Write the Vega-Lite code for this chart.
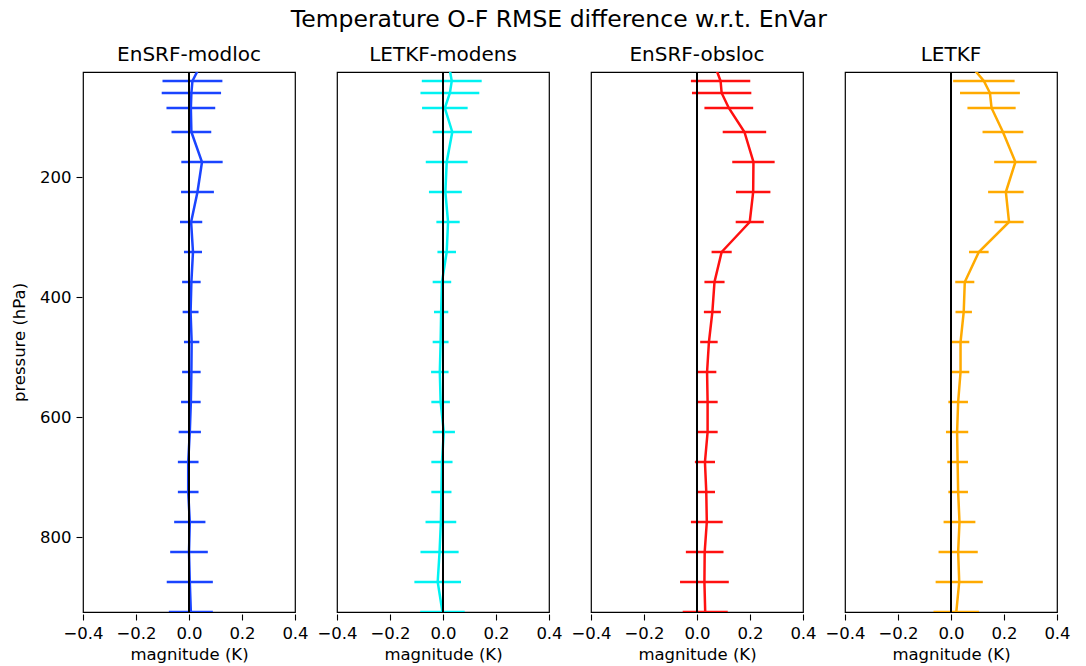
{
  "$schema": "https://vega.github.io/schema/vega-lite/v6.json",
  "background": "white",
  "padding": {"left": 11, "top": 7, "right": 15, "bottom": 2},
  "title": {"text": "Temperature O-F RMSE difference w.r.t. EnVar", "fontSize": 23.5, "font": "DejaVu Sans", "fontWeight": "normal", "color": "#000", "anchor": "middle", "offset": 14, "dx": 18},
  "config": {
    "view": {"stroke": "#000", "strokeWidth": 1.2},
    "font": "DejaVu Sans",
    "axis": {"domain": false, "grid": false, "tickColor": "#000", "tickSize": 6, "tickWidth": 1.1, "labelFontSize": 16.5, "labelColor": "#000", "labelPadding": 5, "titleFontSize": 16.5, "titleFontWeight": "normal", "titleColor": "#000", "labelFont": "DejaVu Sans", "titleFont": "DejaVu Sans", "labelOverlap": false, "labelBound": false, "labelFlush": false}
  },
  "data": {"values": [
    {"scheme": "EnSRF-modloc", "p": 20, "m": 0.036, "lo": null, "hi": null},
    {"scheme": "EnSRF-modloc", "p": 40, "m": 0.013, "lo": -0.100, "hi": 0.126},
    {"scheme": "EnSRF-modloc", "p": 60, "m": 0.009, "lo": -0.103, "hi": 0.121},
    {"scheme": "EnSRF-modloc", "p": 85, "m": 0.007, "lo": -0.085, "hi": 0.099},
    {"scheme": "EnSRF-modloc", "p": 125, "m": 0.009, "lo": -0.066, "hi": 0.084},
    {"scheme": "EnSRF-modloc", "p": 175, "m": 0.049, "lo": -0.029, "hi": 0.127},
    {"scheme": "EnSRF-modloc", "p": 225, "m": 0.032, "lo": -0.030, "hi": 0.094},
    {"scheme": "EnSRF-modloc", "p": 275, "m": 0.008, "lo": -0.034, "hi": 0.050},
    {"scheme": "EnSRF-modloc", "p": 325, "m": 0.015, "lo": -0.019, "hi": 0.049},
    {"scheme": "EnSRF-modloc", "p": 375, "m": 0.009, "lo": -0.026, "hi": 0.044},
    {"scheme": "EnSRF-modloc", "p": 425, "m": 0.006, "lo": -0.024, "hi": 0.036},
    {"scheme": "EnSRF-modloc", "p": 475, "m": 0.010, "lo": -0.019, "hi": 0.039},
    {"scheme": "EnSRF-modloc", "p": 525, "m": 0.009, "lo": -0.026, "hi": 0.044},
    {"scheme": "EnSRF-modloc", "p": 575, "m": 0.007, "lo": -0.030, "hi": 0.044},
    {"scheme": "EnSRF-modloc", "p": 625, "m": 0.003, "lo": -0.039, "hi": 0.045},
    {"scheme": "EnSRF-modloc", "p": 675, "m": -0.003, "lo": -0.042, "hi": 0.036},
    {"scheme": "EnSRF-modloc", "p": 725, "m": -0.003, "lo": -0.042, "hi": 0.036},
    {"scheme": "EnSRF-modloc", "p": 775, "m": 0.003, "lo": -0.056, "hi": 0.062},
    {"scheme": "EnSRF-modloc", "p": 825, "m": 0.000, "lo": -0.071, "hi": 0.071},
    {"scheme": "EnSRF-modloc", "p": 875, "m": 0.003, "lo": -0.084, "hi": 0.090},
    {"scheme": "EnSRF-modloc", "p": 925, "m": 0.007, "lo": -0.076, "hi": 0.090},
    {"scheme": "LETKF-modens", "p": 20, "m": 0.025, "lo": null, "hi": null},
    {"scheme": "LETKF-modens", "p": 40, "m": 0.033, "lo": -0.080, "hi": 0.146},
    {"scheme": "LETKF-modens", "p": 60, "m": 0.026, "lo": -0.085, "hi": 0.137},
    {"scheme": "LETKF-modens", "p": 85, "m": 0.007, "lo": -0.079, "hi": 0.093},
    {"scheme": "LETKF-modens", "p": 125, "m": 0.035, "lo": -0.039, "hi": 0.109},
    {"scheme": "LETKF-modens", "p": 175, "m": 0.014, "lo": -0.065, "hi": 0.093},
    {"scheme": "LETKF-modens", "p": 225, "m": 0.009, "lo": -0.053, "hi": 0.071},
    {"scheme": "LETKF-modens", "p": 275, "m": 0.019, "lo": -0.025, "hi": 0.063},
    {"scheme": "LETKF-modens", "p": 325, "m": 0.014, "lo": -0.021, "hi": 0.049},
    {"scheme": "LETKF-modens", "p": 375, "m": -0.004, "lo": -0.039, "hi": 0.031},
    {"scheme": "LETKF-modens", "p": 425, "m": -0.007, "lo": -0.034, "hi": 0.020},
    {"scheme": "LETKF-modens", "p": 475, "m": -0.009, "lo": -0.039, "hi": 0.021},
    {"scheme": "LETKF-modens", "p": 525, "m": -0.012, "lo": -0.045, "hi": 0.021},
    {"scheme": "LETKF-modens", "p": 575, "m": -0.009, "lo": -0.044, "hi": 0.026},
    {"scheme": "LETKF-modens", "p": 625, "m": 0.003, "lo": -0.039, "hi": 0.045},
    {"scheme": "LETKF-modens", "p": 675, "m": -0.004, "lo": -0.044, "hi": 0.036},
    {"scheme": "LETKF-modens", "p": 725, "m": -0.006, "lo": -0.044, "hi": 0.032},
    {"scheme": "LETKF-modens", "p": 775, "m": -0.008, "lo": -0.066, "hi": 0.050},
    {"scheme": "LETKF-modens", "p": 825, "m": -0.013, "lo": -0.085, "hi": 0.059},
    {"scheme": "LETKF-modens", "p": 875, "m": -0.020, "lo": -0.108, "hi": 0.068},
    {"scheme": "LETKF-modens", "p": 925, "m": -0.002, "lo": -0.086, "hi": 0.082},
    {"scheme": "EnSRF-obsloc", "p": 20, "m": 0.072, "lo": null, "hi": null},
    {"scheme": "EnSRF-obsloc", "p": 40, "m": 0.089, "lo": -0.023, "hi": 0.201},
    {"scheme": "EnSRF-obsloc", "p": 60, "m": 0.093, "lo": -0.019, "hi": 0.205},
    {"scheme": "EnSRF-obsloc", "p": 85, "m": 0.120, "lo": 0.028, "hi": 0.212},
    {"scheme": "EnSRF-obsloc", "p": 125, "m": 0.179, "lo": 0.097, "hi": 0.261},
    {"scheme": "EnSRF-obsloc", "p": 175, "m": 0.213, "lo": 0.133, "hi": 0.293},
    {"scheme": "EnSRF-obsloc", "p": 225, "m": 0.212, "lo": 0.147, "hi": 0.277},
    {"scheme": "EnSRF-obsloc", "p": 275, "m": 0.199, "lo": 0.146, "hi": 0.252},
    {"scheme": "EnSRF-obsloc", "p": 325, "m": 0.093, "lo": 0.055, "hi": 0.131},
    {"scheme": "EnSRF-obsloc", "p": 375, "m": 0.066, "lo": 0.028, "hi": 0.104},
    {"scheme": "EnSRF-obsloc", "p": 425, "m": 0.058, "lo": 0.026, "hi": 0.090},
    {"scheme": "EnSRF-obsloc", "p": 475, "m": 0.045, "lo": 0.012, "hi": 0.078},
    {"scheme": "EnSRF-obsloc", "p": 525, "m": 0.038, "lo": 0.003, "hi": 0.073},
    {"scheme": "EnSRF-obsloc", "p": 575, "m": 0.040, "lo": 0.002, "hi": 0.078},
    {"scheme": "EnSRF-obsloc", "p": 625, "m": 0.040, "lo": 0.002, "hi": 0.078},
    {"scheme": "EnSRF-obsloc", "p": 675, "m": 0.030, "lo": -0.008, "hi": 0.068},
    {"scheme": "EnSRF-obsloc", "p": 725, "m": 0.035, "lo": 0.002, "hi": 0.068},
    {"scheme": "EnSRF-obsloc", "p": 775, "m": 0.037, "lo": -0.023, "hi": 0.097},
    {"scheme": "EnSRF-obsloc", "p": 825, "m": 0.029, "lo": -0.042, "hi": 0.100},
    {"scheme": "EnSRF-obsloc", "p": 875, "m": 0.028, "lo": -0.064, "hi": 0.120},
    {"scheme": "EnSRF-obsloc", "p": 925, "m": 0.031, "lo": -0.054, "hi": 0.116},
    {"scheme": "LETKF", "p": 20, "m": 0.086, "lo": null, "hi": null},
    {"scheme": "LETKF", "p": 40, "m": 0.124, "lo": 0.008, "hi": 0.240},
    {"scheme": "LETKF", "p": 60, "m": 0.147, "lo": 0.034, "hi": 0.260},
    {"scheme": "LETKF", "p": 85, "m": 0.153, "lo": 0.062, "hi": 0.244},
    {"scheme": "LETKF", "p": 125, "m": 0.196, "lo": 0.119, "hi": 0.273},
    {"scheme": "LETKF", "p": 175, "m": 0.243, "lo": 0.163, "hi": 0.323},
    {"scheme": "LETKF", "p": 225, "m": 0.207, "lo": 0.140, "hi": 0.274},
    {"scheme": "LETKF", "p": 275, "m": 0.219, "lo": 0.164, "hi": 0.274},
    {"scheme": "LETKF", "p": 325, "m": 0.105, "lo": 0.068, "hi": 0.142},
    {"scheme": "LETKF", "p": 375, "m": 0.052, "lo": 0.016, "hi": 0.088},
    {"scheme": "LETKF", "p": 425, "m": 0.048, "lo": 0.017, "hi": 0.079},
    {"scheme": "LETKF", "p": 475, "m": 0.036, "lo": 0.003, "hi": 0.069},
    {"scheme": "LETKF", "p": 525, "m": 0.036, "lo": 0.003, "hi": 0.069},
    {"scheme": "LETKF", "p": 575, "m": 0.027, "lo": -0.010, "hi": 0.064},
    {"scheme": "LETKF", "p": 625, "m": 0.023, "lo": -0.019, "hi": 0.065},
    {"scheme": "LETKF", "p": 675, "m": 0.025, "lo": -0.014, "hi": 0.064},
    {"scheme": "LETKF", "p": 725, "m": 0.027, "lo": -0.010, "hi": 0.064},
    {"scheme": "LETKF", "p": 775, "m": 0.032, "lo": -0.028, "hi": 0.092},
    {"scheme": "LETKF", "p": 825, "m": 0.027, "lo": -0.047, "hi": 0.101},
    {"scheme": "LETKF", "p": 875, "m": 0.031, "lo": -0.058, "hi": 0.120},
    {"scheme": "LETKF", "p": 925, "m": 0.020, "lo": -0.066, "hi": 0.106}
  ]},
  "facet": {
    "column": {"field": "scheme", "type": "nominal", "sort": ["EnSRF-modloc", "LETKF-modens", "EnSRF-obsloc", "LETKF"],
      "header": {"title": null, "labelFontSize": 20, "labelFont": "DejaVu Sans", "labelColor": "#000", "labelPadding": 5}}
  },
  "spacing": 40,
  "spec": {
    "width": 212,
    "height": 540,
    "layer": [
      {
        "mark": {"type": "rule", "strokeWidth": 2.5, "clip": true},
        "encoding": {
          "y": {"field": "p", "type": "quantitative", "scale": {"domain": [25, 925], "reverse": true, "nice": false, "zero": false}, "axis": {"values": [200, 400, 600, 800], "title": "pressure (hPa)", "titlePadding": 12}},
          "x": {"field": "lo", "type": "quantitative", "scale": {"domain": [-0.4, 0.4], "nice": false, "zero": false}, "axis": {"values": [-0.4, -0.2, 0, 0.2, 0.4], "format": ".1f", "title": "magnitude (K)", "titlePadding": 5}},
          "x2": {"field": "hi"},
          "color": {"field": "scheme", "type": "nominal", "scale": {"domain": ["EnSRF-modloc", "LETKF-modens", "EnSRF-obsloc", "LETKF"], "range": ["#1a44ff", "#00f2f2", "#ff1010", "#ffaa00"]}, "legend": null}
        }
      },
      {
        "mark": {"type": "line", "strokeWidth": 2.5, "clip": true},
        "encoding": {
          "y": {"field": "p", "type": "quantitative"},
          "x": {"field": "m", "type": "quantitative"},
          "order": {"field": "p", "type": "quantitative"},
          "color": {"field": "scheme", "type": "nominal", "legend": null}
        }
      },
      {
        "mark": {"type": "rule", "color": "#000", "strokeWidth": 2},
        "encoding": {"x": {"datum": 0}}
      }
    ]
  }
}
